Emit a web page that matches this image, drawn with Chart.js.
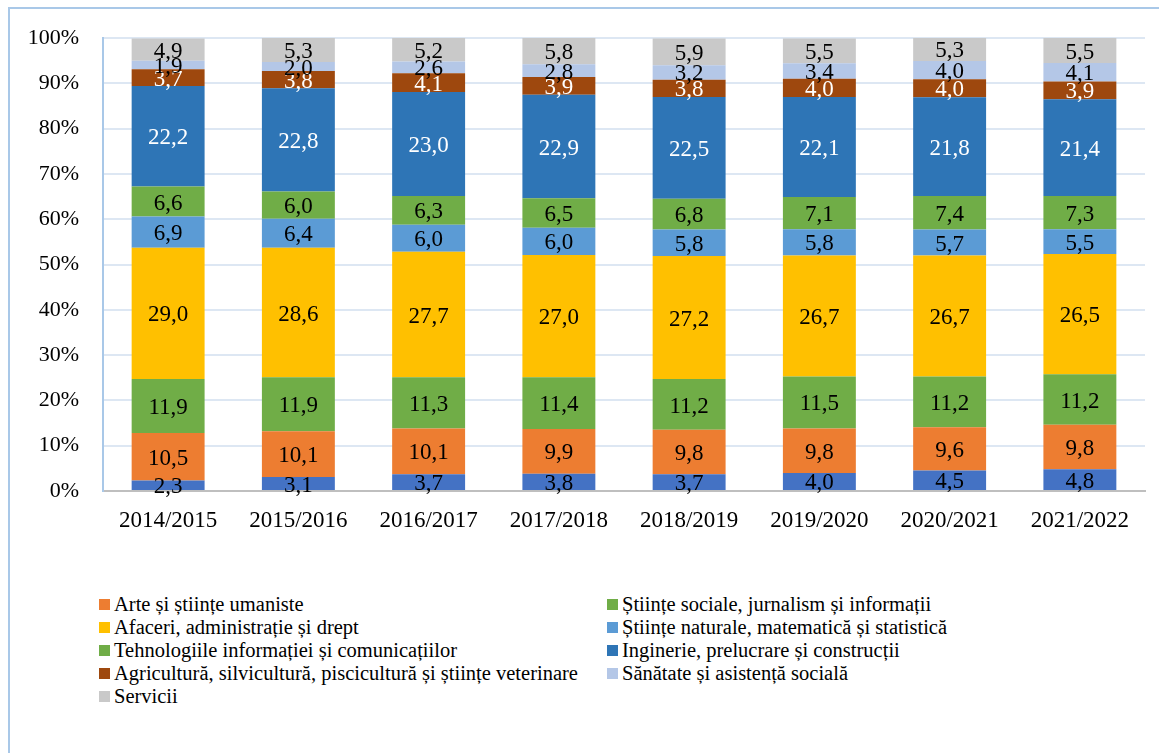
<!DOCTYPE html>
<html>
<head>
<meta charset="utf-8">
<script src="https://cdn.jsdelivr.net/npm/chart.js@4/dist/chart.umd.min.js"></script>
<style>
  html, body { margin: 0; padding: 0; background: #fff; }
  body { width: 1159px; height: 753px; position: relative; overflow: hidden; font-family: "Liberation Serif", "Times New Roman", serif; }
  #frame { position: absolute; left: 8px; top: 7px; width: 1200px; height: 800px; border-left: 2px solid #A9C8E8; border-top: 2px solid #A9C8E8; }
  #wrap { position: absolute; left: 0; top: 0; width: 1159px; height: 545px; }
  #legend { position: absolute; left: 99px; top: 593px; width: 1000px; display: grid; grid-template-columns: 508px 480px; row-gap: 0; }
  .item { display: flex; align-items: center; height: 23px; font-size: 20.5px; color: #000; white-space: nowrap; }
  .sw { width: 11px; height: 11px; margin-right: 4px; flex: none; }
</style>
</head>
<body>
<div id="frame"></div>
<div id="wrap"><canvas id="chart"></canvas></div>
<div id="legend"></div>
<script>
// Chart data
const years = ["2014/2015", "2015/2016", "2016/2017", "2017/2018", "2018/2019", "2019/2020", "2020/2021", "2021/2022"];

const educatie   = [2.3, 3.1, 3.7, 3.8, 3.7, 4.0, 4.5, 4.8];
const arte       = [10.5, 10.1, 10.1, 9.9, 9.8, 9.8, 9.6, 9.8];
const sociale    = [11.9, 11.9, 11.3, 11.4, 11.2, 11.5, 11.2, 11.2];
const afaceri    = [29.0, 28.6, 27.7, 27.0, 27.2, 26.7, 26.7, 26.5];
const naturale   = [6.9, 6.4, 6.0, 6.0, 5.8, 5.8, 5.7, 5.5];
const tic        = [6.6, 6.0, 6.3, 6.5, 6.8, 7.1, 7.4, 7.3];
const inginerie  = [22.2, 22.8, 23.0, 22.9, 22.5, 22.1, 21.8, 21.4];
const agricult   = [3.7, 3.8, 4.1, 3.9, 3.8, 4.0, 4.0, 3.9];
const sanatate   = [1.9, 2.0, 2.6, 2.8, 3.2, 3.4, 4.0, 4.1];
const servicii   = [4.9, 5.3, 5.2, 5.8, 5.9, 5.5, 5.3, 5.5];

const yTicks = [0, 10, 20, 30, 40, 50, 60, 70, 80, 90, 100];

// legend order in the picture (two columns, row by row); "Educație" has no entry
const legendOrder = [1, 2, 3, 4, 5, 6, 7, 8, 9];

const serif = "'Liberation Serif', 'Times New Roman', serif";

function ds(label, data, color, labelColor) {
  return {
    label: label,
    data: data,
    backgroundColor: color,
    labelColor: labelColor,
    borderWidth: 0,
    barPercentage: 0.56,
    categoryPercentage: 1.0
  };
}

// labels in the middle of each segment
const segmentLabels = {
  id: "segmentLabels",
  afterDatasetsDraw(chart) {
    const ctx = chart.ctx;
    ctx.save();
    ctx.font = "23px " + serif;
    ctx.textAlign = "center";
    ctx.textBaseline = "middle";
    chart.data.datasets.forEach((d, i) => {
      const meta = chart.getDatasetMeta(i);
      meta.data.forEach((bar, j) => {
        const p = bar.getProps(["x", "y", "base"], true);
        ctx.fillStyle = d.labelColor;
        ctx.fillText(d.data[j].toFixed(1).replace(".", ","), p.x, (p.y + p.base) / 2 + 2);
      });
    });
    ctx.restore();
  }
};

const chart = new Chart(document.getElementById("chart").getContext("2d"), {
  type: "bar",
  data: {
    labels: years,
    datasets: [
      ds("Educație", educatie, "#4472C4", "#000"),
      ds("Arte și științe umaniste", arte, "#ED7D31", "#000"),
      ds("Științe sociale, jurnalism și informații", sociale, "#70AD47", "#000"),
      ds("Afaceri, administrație și drept", afaceri, "#FFC000", "#000"),
      ds("Științe naturale, matematică și statistică", naturale, "#5B9BD5", "#000"),
      ds("Tehnologiile informației și comunicațiilor", tic, "#70AD47", "#000"),
      ds("Inginerie, prelucrare și construcții", inginerie, "#2E75B6", "#fff"),
      ds("Agricultură, silvicultură, piscicultură și științe veterinare", agricult, "#9E480E", "#fff"),
      ds("Sănătate și asistență socială", sanatate, "#B4C7E7", "#000"),
      ds("Servicii", servicii, "#C9C9C9", "#000")
    ]
  },
  options: {
    responsive: true,
    maintainAspectRatio: false,
    animation: false,
    layout: { padding: { top: 38, right: 14, bottom: 4, left: 0 } },
    plugins: {
      legend: { display: false },
      tooltip: { enabled: false }
    },
    scales: {
      x: {
        stacked: true,
        grid: { display: false, drawTicks: false },
        border: { color: "#BFBFBF", width: 2 },
        ticks: { color: "#000", font: { family: serif, size: 23 }, padding: 16 },
        afterFit(scale) { scale.height = 50; }
      },
      y: {
        stacked: true,
        min: 0,
        max: 100,
        afterBuildTicks(scale) { scale.ticks = yTicks.map(v => ({ value: v })); },
        grid: { color: "#DDE7F3", lineWidth: 2, drawTicks: false },
        border: { color: "#A9C8E8", width: 2 },
        ticks: { color: "#000", font: { family: serif, size: 22 }, padding: 24, callback: v => v + "%" },
        afterFit(scale) { scale.width = 103; }
      }
    }
  },
  plugins: [segmentLabels]
});

// html legend in two columns
const legendEl = document.getElementById("legend");
legendOrder.forEach(i => {
  const d = chart.data.datasets[i];
  const item = document.createElement("div");
  item.className = "item";
  item.innerHTML = '<span class="sw" style="background:' + d.backgroundColor + '"></span>' + d.label;
  legendEl.appendChild(item);
});
</script>
</body>
</html>
